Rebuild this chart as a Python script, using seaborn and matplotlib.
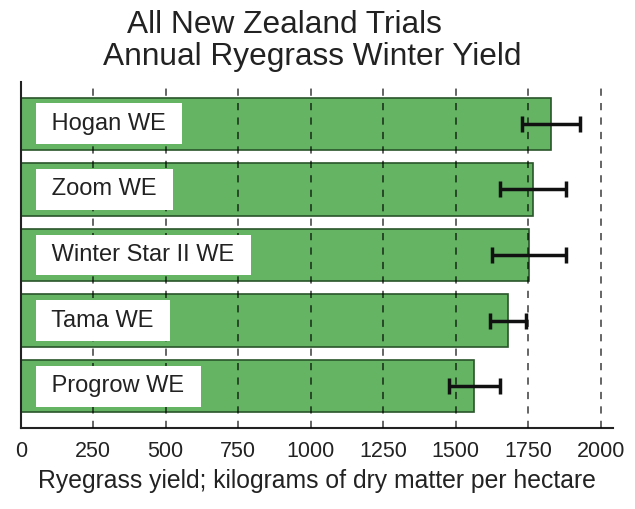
import pandas as pd
import matplotlib
matplotlib.use("Agg")
import matplotlib.pyplot as plt
import seaborn as sns

# Data
varieties = ["Hogan WE", "Zoom WE", "Winter Star II WE", "Tama WE", "Progrow WE"]
yield_kg = [1830, 1767, 1754, 1681, 1565]
error_kg = [100, 113, 127, 61, 89]
x_ticks = [0, 250, 500, 750, 1000, 1250, 1500, 1750, 2000]

df = pd.DataFrame({"Variety": varieties, "Yield": yield_kg, "Err": error_kg})

sns.set_style("white")
plt.rcParams["font.family"] = ["Liberation Sans", "DejaVu Sans"]

fig = plt.figure(figsize=(6.35, 5.09), dpi=100)
ax = fig.add_axes([0.0326, 0.159, 0.932, 0.680])

sns.barplot(data=df, x="Yield", y="Variety", orient="h", color="#64b464",
            saturation=1, width=0.8, edgecolor="#2a552a", linewidth=1.2,
            errorbar=None, ax=ax, zorder=1)

# error bars
ax.errorbar(df["Yield"], range(len(df)), xerr=df["Err"], fmt="none",
            ecolor="#111111", elinewidth=2.5, capsize=5.5, capthick=2.5, zorder=4)

# dashed vertical grid on top of bars
for t in x_ticks[1:]:
    ax.axvline(t, color="black", linestyle=(0, (4, 4)), linewidth=1.3,
               alpha=0.65, zorder=3)

# labels in white boxes inside bars
for i, name in enumerate(varieties):
    ax.text(85, i, " " + name + " ", ha="left", va="center", fontsize=17,
            color="#222222", zorder=5,
            bbox=dict(boxstyle="square,pad=0.4", fc="white", ec="none"))

ax.set_xlim(0, 2041)
ax.set_ylim(4.64, -0.64)
ax.set_xticks(x_ticks)
ax.set_xticklabels([str(t) for t in x_ticks], fontsize=15.5, color="#222222")
ax.set_yticks([])
ax.tick_params(axis="x", direction="in", length=6, width=1.3, color="#222222", pad=9)
ax.set_xlabel("Ryegrass yield; kilograms of dry matter per hectare",
              fontsize=17.8, color="#222222", labelpad=5)
ax.set_ylabel("")

sns.despine(ax=ax, top=True, right=True)
for side in ["left", "bottom"]:
    ax.spines[side].set_color("#222222")
    ax.spines[side].set_linewidth(1.5)

# two-line title
fig.text(127 / 635, 1 - 33 / 509, "All New Zealand Trials", fontsize=22.8,
         ha="left", va="baseline", color="#222222")
fig.text(103 / 635, 1 - 65 / 509, "Annual Ryegrass Winter Yield", fontsize=22.8,
         ha="left", va="baseline", color="#222222")

fig.savefig("out.png", dpi=100)
